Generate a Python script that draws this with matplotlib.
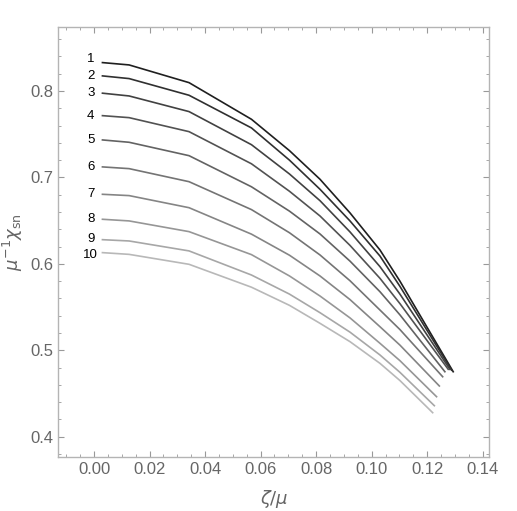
import numpy as np
import matplotlib
matplotlib.use("Agg")
import matplotlib.pyplot as plt
from matplotlib.ticker import MultipleLocator

# shared zeta/mu grid (last point differs per curve)
x_grid = [0.003, 0.0126, 0.0342, 0.0567, 0.0704, 0.0814, 0.0922, 0.103, 0.1102]
x_end = [0.1294, 0.1288, 0.1282, 0.1276, 0.1264, 0.1256, 0.1244, 0.1234, 0.1226, 0.1220]

curve_1 = [0.8329, 0.8302, 0.8097, 0.7673, 0.7310, 0.6979, 0.6590, 0.6161, 0.5800, 0.4752]
curve_2 = [0.8175, 0.8144, 0.7951, 0.7573, 0.7200, 0.6863, 0.6497, 0.6091, 0.5740, 0.4770]
curve_3 = [0.7975, 0.7943, 0.7762, 0.7379, 0.7040, 0.6731, 0.6370, 0.5968, 0.5650, 0.4780]
curve_4 = [0.7715, 0.7692, 0.7530, 0.7158, 0.6840, 0.6554, 0.6214, 0.5833, 0.5540, 0.4780]
curve_5 = [0.7434, 0.7407, 0.7252, 0.6892, 0.6610, 0.6346, 0.6032, 0.5678, 0.5410, 0.4752]
curve_6 = [0.7122, 0.7102, 0.6951, 0.6628, 0.6360, 0.6103, 0.5805, 0.5466, 0.5240, 0.4694]
curve_7 = [0.6805, 0.6790, 0.6650, 0.6344, 0.6100, 0.5860, 0.5587, 0.5273, 0.5060, 0.4587]
curve_8 = [0.6516, 0.6497, 0.6373, 0.6107, 0.5860, 0.5628, 0.5375, 0.5081, 0.4880, 0.4463]
curve_9 = [0.6280, 0.6265, 0.6150, 0.5871, 0.5650, 0.5435, 0.5210, 0.4946, 0.4745, 0.4359]
curve_10 = [0.6130, 0.6110, 0.5995, 0.5730, 0.5520, 0.5312, 0.5100, 0.4849, 0.4650, 0.4278]

curves = [curve_1, curve_2, curve_3, curve_4, curve_5,
          curve_6, curve_7, curve_8, curve_9, curve_10]
labels = ["1", "2", "3", "4", "5", "6", "7", "8", "9", "10"]
label_y = [0.8369, 0.8175, 0.7975, 0.7712, 0.7434, 0.7118, 0.6813, 0.6524, 0.6289, 0.6100]

plt.rcParams["font.family"] = ["Liberation Sans", "DejaVu Sans"]
plt.rcParams["mathtext.fontset"] = "dejavusans"

fig = plt.figure(figsize=(5.17, 5.11), dpi=100)
ax = fig.add_axes([0.1128, 0.1063, 0.8336, 0.8414])

grays = np.linspace(0.12, 0.72, len(curves))
for i, ys in enumerate(curves):
    xs = x_grid + [x_end[i]]
    g = grays[i]
    ax.plot(xs, ys, color=(g, g, g), lw=1.2)
    ax.text(-0.0012, label_y[i], labels[i], ha="center", va="center",
            fontsize=9.5, color="black")

ax.set_xlim(-0.0129, 0.1424)
ax.set_ylim(0.3769, 0.8744)
ax.xaxis.set_major_locator(MultipleLocator(0.02))
ax.xaxis.set_minor_locator(MultipleLocator(0.005))
ax.yaxis.set_major_locator(MultipleLocator(0.1))
ax.yaxis.set_minor_locator(MultipleLocator(0.02))
ax.xaxis.set_major_formatter(plt.FuncFormatter(lambda v, p: f"{v:.2f}"))
ax.yaxis.set_major_formatter(plt.FuncFormatter(lambda v, p: f"{v:.1f}"))

frame_col = "#b4b4b4"
for s in ax.spines.values():
    s.set_color(frame_col)
    s.set_linewidth(1.0)
ax.tick_params(which="both", direction="in", top=True, right=True,
               color="#999999", labelcolor="#666666", labelsize=12)
ax.tick_params(which="major", length=4, width=0.8)
ax.tick_params(which="minor", length=2, width=0.6)

ax.set_xlabel(r"$\zeta/\mu$", fontsize=13, color="#666666", labelpad=8)
ax.set_ylabel(r"$\mu^{-1}\chi_{\rm sn}$", fontsize=13, color="#666666", labelpad=4)

fig.savefig("out.png", dpi=100)
